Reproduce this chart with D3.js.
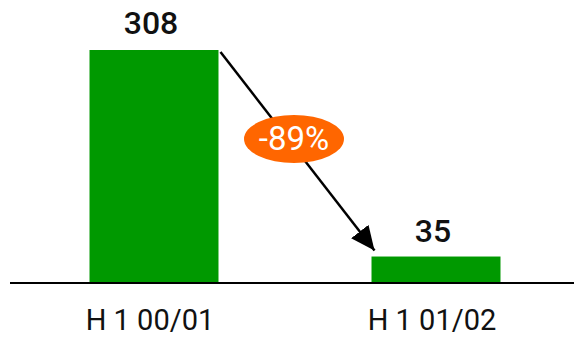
<!DOCTYPE html>
<html><head><meta charset="utf-8">
<script src="https://cdn.jsdelivr.net/npm/d3@7"></script>
<style>body{margin:0;background:#fff}svg{display:block}</style>
</head><body>
<svg id="c" width="574" height="338"></svg>
<script>
const categories = ["H 1 00/01", "H 1 01/02"];
const values = [308, 35];
const valueLabels = ["308", "35"];
const changeLabel = "-89%";

const svg = d3.select("#c");
const font = "Roboto, 'Open Sans', sans-serif";
const x = d3.scaleBand().domain(categories).range([13, 577]).paddingInner(0.5426).paddingOuter(0.2713);
const y = d3.scaleLinear().domain([0, 308]).range([283, 50]);

svg.append("defs").append("marker").attr("id","ah").attr("viewBox","0 0 10 10")
  .attr("refX",10).attr("refY",5).attr("markerWidth",24).attr("markerHeight",22)
  .attr("markerUnits","userSpaceOnUse").attr("orient","auto").attr("preserveAspectRatio","none")
  .append("path").attr("d","M0,0L10,5L0,10Z").attr("fill","#000");

svg.selectAll("rect.bar").data(values).join("rect").attr("class","bar")
  .attr("x",(d,i)=>x(categories[i])).attr("width",x.bandwidth())
  .attr("y",d=>y(d)).attr("height",d=>y(0)-y(d)).attr("fill","#009900");

svg.append("line").attr("x1",10).attr("x2",574).attr("y1",y(0)).attr("y2",y(0))
  .attr("stroke","#000").attr("stroke-width",2);

svg.selectAll("text.val").data(values).join("text").attr("class","val")
  .attr("x",(d,i)=>x(categories[i])+x.bandwidth()/2 - 3).attr("y",(d,i)=>y(d)-(i?15:16))
  .attr("text-anchor","middle").attr("font-family",font).attr("font-weight",500)
  .attr("font-size",32).attr("fill","#111").text((d,i)=>valueLabels[i]);

svg.selectAll("text.cat").data(categories).join("text").attr("class","cat")
  .attr("x",d=>x(d)+x.bandwidth()/2 - 4).attr("y",330)
  .attr("text-anchor","middle").attr("font-family",font)
  .attr("font-size",29).attr("fill","#111").text(d=>d);

// arrow
const x0 = x(categories[0]) + x.bandwidth() + 2, y0 = y(values[0]) + 2;
const x1 = x(categories[1]) + 3, y1 = y(values[1]) - 6;
svg.append("line").attr("x1",x0).attr("y1",y0).attr("x2",x1).attr("y2",y1)
  .attr("stroke","#000").attr("stroke-width",2.5).attr("marker-end","url(#ah)");

const cx = 294, cy = 139;
svg.append("ellipse").attr("cx",cx).attr("cy",cy).attr("rx",50).attr("ry",24).attr("fill","#FF6600");
svg.append("text").attr("x",cx).attr("y",cy+11).attr("text-anchor","middle")
  .attr("font-family",font).attr("font-size",33).attr("fill","#fff").text(changeLabel);
</script>
</body></html>
